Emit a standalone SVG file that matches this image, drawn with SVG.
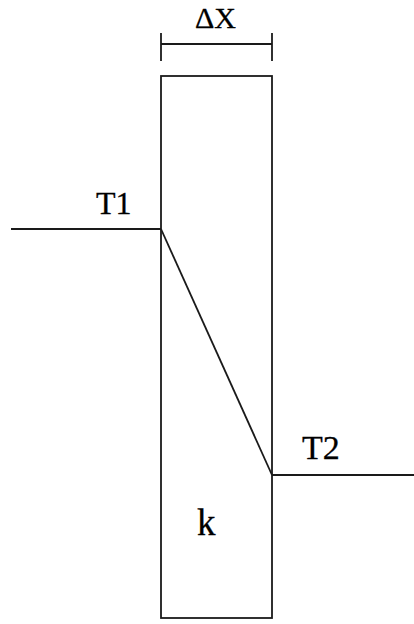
<svg xmlns="http://www.w3.org/2000/svg" width="414" height="624" viewBox="0 0 414 624">
<style>
.ln{stroke:#1a1a1a;stroke-width:1.8;fill:none}
.tx{font-family:"Liberation Serif","Times New Roman",serif;fill:#000;stroke:#000;stroke-width:0.3}
</style>
<rect width="414" height="624" fill="#fff"/>
<g id="slab">
<rect class="ln" x="161" y="76" width="111" height="542"/>
<text class="tx" x="197" y="535" font-size="37">k</text>
</g>
<g id="dimension">
<line class="ln" x1="161" y1="44" x2="272" y2="44"/>
<line class="ln" x1="161" y1="33" x2="161" y2="61"/>
<line class="ln" x1="272" y1="33" x2="272" y2="61"/>
<text class="tx" x="195" y="28" font-size="30">ΔX</text>
</g>
<g id="T1">
<text class="tx" x="96" y="214" font-size="32">T1</text>
</g>
<g id="T2">
<text class="tx" x="302" y="459" font-size="34">T2</text>
</g>
<g id="connectors">
<line class="ln" x1="11" y1="229" x2="161" y2="229"/>
<line class="ln" x1="161" y1="229" x2="272" y2="475" stroke-width="1.5"/>
<line class="ln" x1="272" y1="475" x2="414" y2="475"/>
</g>
</svg>
